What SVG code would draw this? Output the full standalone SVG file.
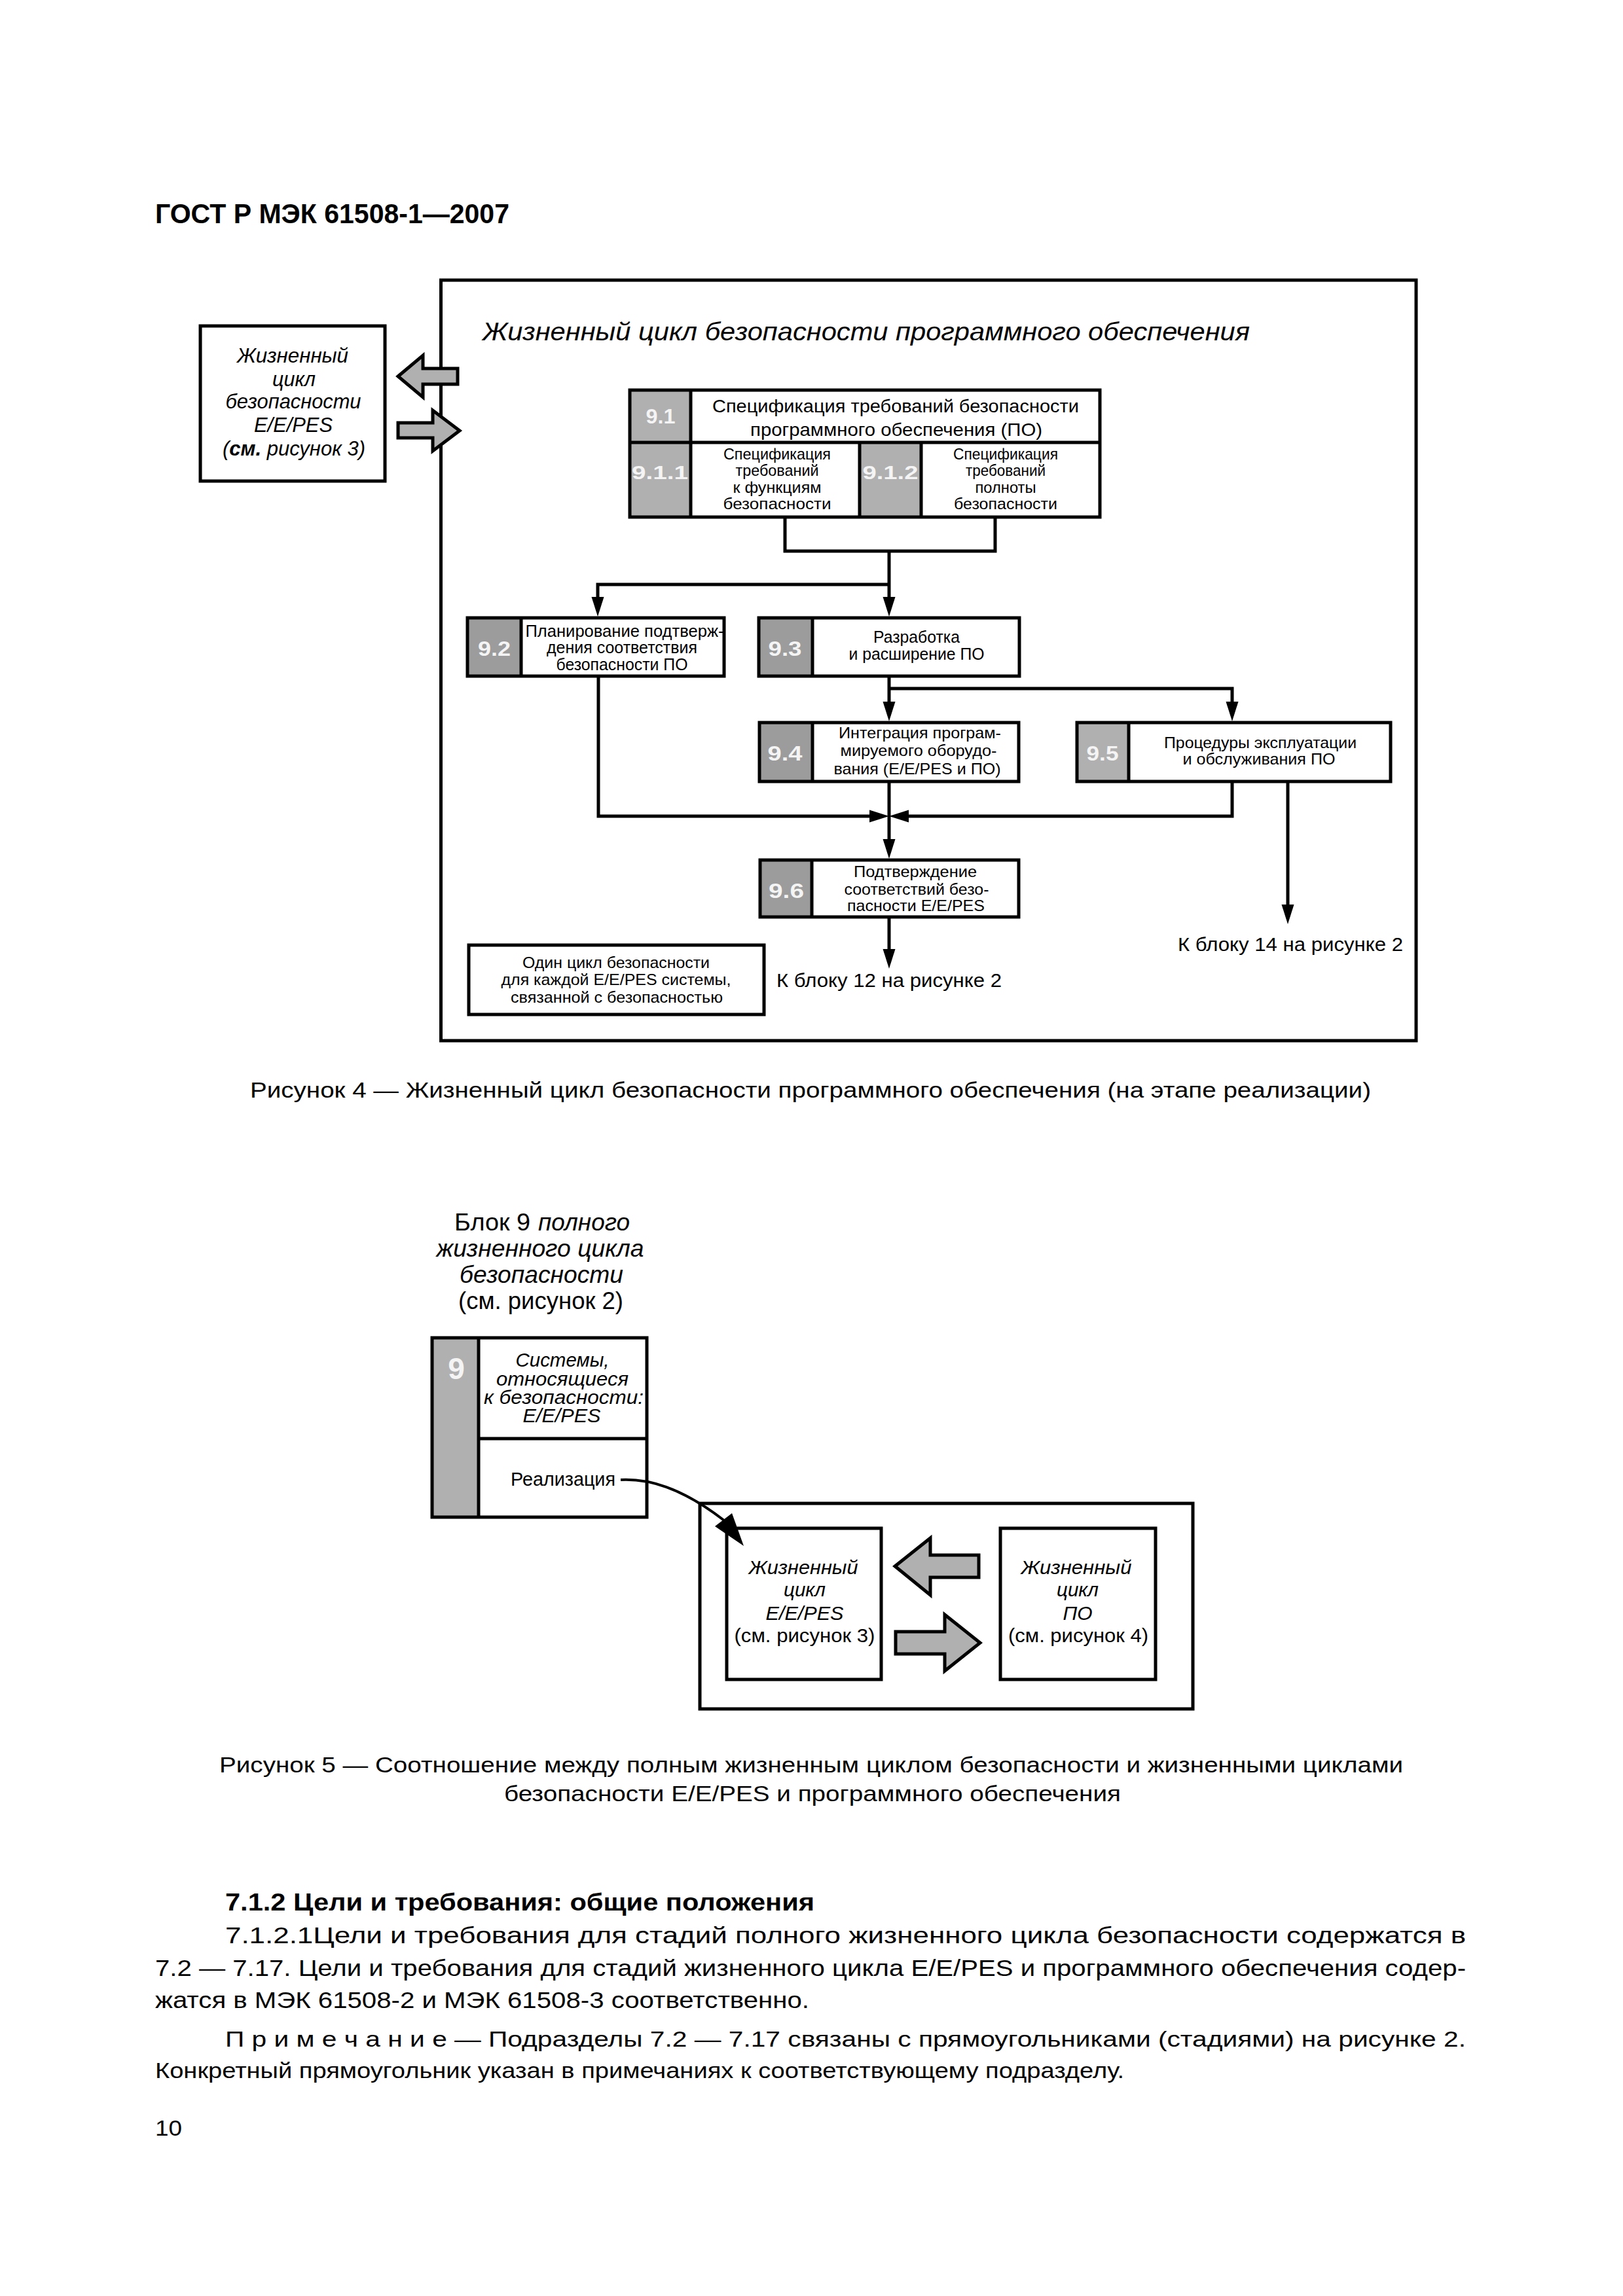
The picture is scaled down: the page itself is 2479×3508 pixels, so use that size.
<svg xmlns="http://www.w3.org/2000/svg" width="2479" height="3508" viewBox="0 0 2479 3508">
<defs>
<style>
text{font-family:'Liberation Sans',Arial,sans-serif;fill:#000}
.i{font-style:italic}
.b{font-weight:bold}
.m{text-anchor:middle}
.ol{fill:none;stroke:#000;stroke-width:5}
.g1{fill:#9c9c9c}
.g2{fill:#b0b0b0}
.dv{fill:none;stroke:#000;stroke-width:5}
.num{fill:#f4f4f4;font-weight:bold;text-anchor:middle}
.con{fill:none;stroke:#000;stroke-width:5}
.fat{fill:#b0b0b0;stroke:#000;stroke-width:5;stroke-linejoin:miter}
</style>
<marker id="ah" markerUnits="userSpaceOnUse" markerWidth="32" markerHeight="22" refX="0" refY="10" orient="auto"><path d="M0,0.5 L30,10 L0,19.5 z" fill="#000"/></marker>
</defs>
<rect x="0" y="0" width="2479" height="3508" fill="#fff"/>

<g id="header"><text x="237" y="341" class="b" font-size="42" textLength="541" lengthAdjust="spacingAndGlyphs">ГОСТ Р МЭК 61508-1—2007</text></g>

<!-- Figure 4 -->
<g id="fig4-frame">
<rect class="ol" x="673.5" y="428" width="1489.5" height="1162"/>
<text x="737" y="520" class="i" font-size="39" textLength="1172" lengthAdjust="spacingAndGlyphs">Жизненный цикл безопасности программного обеспечения</text>
</g>

<g id="eepes-lifecycle">
<rect class="ol" x="306" y="498" width="282" height="237"/>
<text x="447" y="554" class="i m" font-size="32" textLength="170" lengthAdjust="spacingAndGlyphs">Жизненный</text>
<text x="449" y="590" class="i m" font-size="32" textLength="66" lengthAdjust="spacingAndGlyphs">цикл</text>
<text x="448" y="624" class="i m" font-size="32" textLength="207" lengthAdjust="spacingAndGlyphs">безопасности</text>
<text x="448" y="660" class="i m" font-size="32" textLength="120" lengthAdjust="spacingAndGlyphs">E/E/PES</text>
<text x="449" y="696" class="i m" font-size="31">(<tspan class="b">см.</tspan> рисунок 3)</text>
</g>

<g id="fig4-exchange-arrows">
<polygon class="fat" points="608,575 646,543 646,563 699,563 699,587 646,587 646,607"/>
<polygon class="fat" points="608,646 661,646 661,627 702,658 661,689 661,669 608,669"/>
</g>

<g id="n9-1">
<rect class="g2" x="962" y="596" width="93" height="194"/>
<rect class="g2" x="1313" y="676" width="94" height="114"/>
<rect class="ol" x="962" y="596" width="718" height="194"/>
<path class="dv" d="M1055,596 V790 M962,676 H1680 M1313,676 V790 M1407,676 V790"/>
<text x="1009" y="647" class="num" font-size="31" textLength="45" lengthAdjust="spacingAndGlyphs">9.1</text>
<text x="1368" y="630" class="m" font-size="28" textLength="560" lengthAdjust="spacingAndGlyphs">Спецификация требований безопасности</text>
<text x="1369" y="666" class="m" font-size="28" textLength="446" lengthAdjust="spacingAndGlyphs">программного обеспечения (ПО)</text>
<text x="1008" y="732" class="num" font-size="30" textLength="86" lengthAdjust="spacingAndGlyphs">9.1.1</text>
<text x="1187" y="702" class="m" font-size="24" textLength="164" lengthAdjust="spacingAndGlyphs">Спецификация</text>
<text x="1187" y="727" class="m" font-size="24" textLength="127" lengthAdjust="spacingAndGlyphs">требований</text>
<text x="1187" y="753" class="m" font-size="24" textLength="135" lengthAdjust="spacingAndGlyphs">к функциям</text>
<text x="1187" y="778" class="m" font-size="24" textLength="165" lengthAdjust="spacingAndGlyphs">безопасности</text>
<text x="1360" y="732" class="num" font-size="30" textLength="85" lengthAdjust="spacingAndGlyphs">9.1.2</text>
<text x="1536" y="702" class="m" font-size="24" textLength="160" lengthAdjust="spacingAndGlyphs">Спецификация</text>
<text x="1536" y="727" class="m" font-size="24" textLength="122" lengthAdjust="spacingAndGlyphs">требований</text>
<text x="1536" y="753" class="m" font-size="24" textLength="93" lengthAdjust="spacingAndGlyphs">полноты</text>
<text x="1536" y="778" class="m" font-size="24" textLength="158" lengthAdjust="spacingAndGlyphs">безопасности</text>
</g>

<g id="n9-2">
<rect class="g1" x="714" y="944" width="82" height="89"/>
<rect class="ol" x="714" y="944" width="392" height="89"/>
<path class="dv" d="M796,944 V1033"/>
<text x="755" y="1002" class="num" font-size="32" textLength="50" lengthAdjust="spacingAndGlyphs">9.2</text>
<text x="954" y="973" class="m" font-size="25" textLength="303" lengthAdjust="spacingAndGlyphs">Планирование подтверж-</text>
<text x="950" y="998" class="m" font-size="25" textLength="230" lengthAdjust="spacingAndGlyphs">дения соответствия</text>
<text x="950" y="1024" class="m" font-size="25" textLength="201" lengthAdjust="spacingAndGlyphs">безопасности ПО</text>
</g>

<g id="n9-3">
<rect class="g1" x="1159" y="944" width="82" height="89"/>
<rect class="ol" x="1159" y="944" width="398" height="89"/>
<path class="dv" d="M1241,944 V1033"/>
<text x="1199" y="1002" class="num" font-size="32" textLength="51" lengthAdjust="spacingAndGlyphs">9.3</text>
<text x="1400" y="982" class="m" font-size="25" textLength="132" lengthAdjust="spacingAndGlyphs">Разработка</text>
<text x="1400" y="1008" class="m" font-size="25" textLength="207" lengthAdjust="spacingAndGlyphs">и расширение ПО</text>
</g>

<g id="n9-4">
<rect class="g1" x="1160" y="1104" width="81" height="90"/>
<rect class="ol" x="1160" y="1104" width="396" height="90"/>
<path class="dv" d="M1241,1104 V1194"/>
<text x="1199" y="1162" class="num" font-size="32" textLength="53" lengthAdjust="spacingAndGlyphs">9.4</text>
<text x="1405" y="1128" class="m" font-size="24" textLength="248" lengthAdjust="spacingAndGlyphs">Интеграция програм-</text>
<text x="1403" y="1155" class="m" font-size="24" textLength="239" lengthAdjust="spacingAndGlyphs">мируемого оборудо-</text>
<text x="1401" y="1183" class="m" font-size="24" textLength="255" lengthAdjust="spacingAndGlyphs">вания (E/E/PES и ПО)</text>
</g>

<g id="n9-5">
<rect class="g2" x="1645" y="1104" width="79" height="90"/>
<rect class="ol" x="1645" y="1104" width="479" height="90"/>
<path class="dv" d="M1724,1104 V1194"/>
<text x="1684" y="1162" class="num" font-size="32" textLength="49" lengthAdjust="spacingAndGlyphs">9.5</text>
<text x="1925" y="1143" class="m" font-size="24" textLength="294" lengthAdjust="spacingAndGlyphs">Процедуры эксплуатации</text>
<text x="1923" y="1168" class="m" font-size="24" textLength="233" lengthAdjust="spacingAndGlyphs">и обслуживания ПО</text>
</g>

<g id="n9-6">
<rect class="g1" x="1161" y="1314" width="79" height="87"/>
<rect class="ol" x="1161" y="1314" width="395" height="87"/>
<path class="dv" d="M1240,1314 V1401"/>
<text x="1201" y="1372" class="num" font-size="32" textLength="54" lengthAdjust="spacingAndGlyphs">9.6</text>
<text x="1398" y="1340" class="m" font-size="24" textLength="188" lengthAdjust="spacingAndGlyphs">Подтверждение</text>
<text x="1400" y="1367" class="m" font-size="24" textLength="221" lengthAdjust="spacingAndGlyphs">соответствий безо-</text>
<text x="1399" y="1392" class="m" font-size="24" textLength="210" lengthAdjust="spacingAndGlyphs">пасности E/E/PES</text>
</g>

<g id="note-one-cycle">
<rect class="ol" x="716" y="1444" width="451" height="106"/>
<text x="941" y="1479" class="m" font-size="24" textLength="286" lengthAdjust="spacingAndGlyphs">Один цикл безопасности</text>
<text x="941" y="1505" class="m" font-size="24" textLength="351" lengthAdjust="spacingAndGlyphs">для каждой E/E/PES системы,</text>
<text x="942" y="1532" class="m" font-size="24" textLength="324" lengthAdjust="spacingAndGlyphs">связанной с безопасностью</text>
</g>

<g id="to-block-12"><text x="1186" y="1508" font-size="30" textLength="344" lengthAdjust="spacingAndGlyphs">К блоку 12 на рисунке 2</text></g>
<g id="to-block-14"><text x="1799" y="1453" font-size="30" textLength="344" lengthAdjust="spacingAndGlyphs">К блоку 14 на рисунке 2</text></g>

<g id="connectors">
<path class="con" d="M1199,790 V842 H1520 V790"/>
<path class="con" d="M1358,842 V912" marker-end="url(#ah)"/>
<path class="con" d="M1358,893 H913 V912" marker-end="url(#ah)"/>
<path class="con" d="M1358,1033 V1072" marker-end="url(#ah)"/>
<path class="con" d="M1358,1052 H1882 V1072" marker-end="url(#ah)"/>
<path class="con" d="M914,1033 V1247 H1328" marker-end="url(#ah)"/>
<path class="con" d="M1882,1194 V1247 H1388" marker-end="url(#ah)"/>
<path class="con" d="M1358,1194 V1282" marker-end="url(#ah)"/>
<path class="con" d="M1967,1194 V1382" marker-end="url(#ah)"/>
<path class="con" d="M1358,1401 V1450" marker-end="url(#ah)"/>
<path d="M948,2261 C990,2259 1040,2272 1106,2323" fill="none" stroke="#000" stroke-width="4"/>
<polygon points="1136,2362 1092,2332 1118,2312" fill="#000"/>
</g>

<g id="fig4-caption"><text x="382" y="1677" font-size="33" textLength="1712" lengthAdjust="spacingAndGlyphs">Рисунок 4 — Жизненный цикл безопасности программного обеспечения (на этапе реализации)</text></g>

<!-- Figure 5 -->
<g id="block9-label">
<text x="694" y="1880" font-size="36" textLength="116" lengthAdjust="spacingAndGlyphs">Блок 9</text>
<text x="822" y="1880" class="i" font-size="36" textLength="140" lengthAdjust="spacingAndGlyphs">полного</text>
<text x="825" y="1920" class="i m" font-size="36" textLength="317" lengthAdjust="spacingAndGlyphs">жизненного цикла</text>
<text x="827" y="1960" class="i m" font-size="36" textLength="250" lengthAdjust="spacingAndGlyphs">безопасности</text>
<text x="826" y="2000" class="m" font-size="36" textLength="252" lengthAdjust="spacingAndGlyphs">(см. рисунок 2)</text>
</g>

<g id="block9">
<rect class="g2" x="660" y="2044" width="71" height="274"/>
<rect class="ol" x="660" y="2044" width="328" height="274"/>
<path class="dv" d="M731,2044 V2318 M731,2198 H988"/>
<text x="697" y="2107" class="num" font-size="46">9</text>
<text x="859" y="2088" class="i m" font-size="30" textLength="143" lengthAdjust="spacingAndGlyphs">Системы,</text>
<text x="859" y="2117" class="i m" font-size="30" textLength="202" lengthAdjust="spacingAndGlyphs">относящиеся</text>
<text x="861" y="2145" class="i m" font-size="30" textLength="244" lengthAdjust="spacingAndGlyphs">к безопасности:</text>
<text x="858" y="2173" class="i m" font-size="30" textLength="119" lengthAdjust="spacingAndGlyphs">E/E/PES</text>
<text x="860" y="2270" class="m" font-size="29" textLength="160" lengthAdjust="spacingAndGlyphs">Реализация</text>
</g>

<g id="realization-frame">
<rect class="ol" x="1069" y="2297" width="753" height="314"/>
</g>

<g id="eepes-cycle">
<rect class="ol" x="1110" y="2335" width="236" height="231"/>
<text x="1227" y="2405" class="i m" font-size="30" textLength="167" lengthAdjust="spacingAndGlyphs">Жизненный</text>
<text x="1229" y="2439" class="i m" font-size="30" textLength="64" lengthAdjust="spacingAndGlyphs">цикл</text>
<text x="1229" y="2475" class="i m" font-size="30" textLength="119" lengthAdjust="spacingAndGlyphs">E/E/PES</text>
<text x="1229" y="2509" class="m" font-size="30" textLength="215" lengthAdjust="spacingAndGlyphs">(см. рисунок 3)</text>
</g>

<g id="software-cycle">
<rect class="ol" x="1528" y="2335" width="237" height="231"/>
<text x="1644" y="2405" class="i m" font-size="30" textLength="169" lengthAdjust="spacingAndGlyphs">Жизненный</text>
<text x="1646" y="2439" class="i m" font-size="30" textLength="64" lengthAdjust="spacingAndGlyphs">цикл</text>
<text x="1646" y="2475" class="i m" font-size="30" textLength="45" lengthAdjust="spacingAndGlyphs">ПО</text>
<text x="1647" y="2509" class="m" font-size="30" textLength="214" lengthAdjust="spacingAndGlyphs">(см. рисунок 4)</text>
</g>

<g id="fig5-exchange-arrows">
<polygon class="fat" points="1367,2393 1421,2350 1421,2376 1495,2376 1495,2410 1421,2410 1421,2437"/>
<polygon class="fat" points="1368,2493 1443,2493 1443,2467 1497,2510 1443,2553 1443,2527 1368,2527"/>
</g>

<g id="fig5-caption">
<text x="335" y="2708" font-size="33" textLength="1808" lengthAdjust="spacingAndGlyphs">Рисунок 5 — Соотношение между полным жизненным циклом безопасности и жизненными циклами</text>
<text x="770" y="2752" font-size="33" textLength="942" lengthAdjust="spacingAndGlyphs">безопасности E/E/PES и программного обеспечения</text>
</g>

<g id="body-text">
<text x="344" y="2919" class="b" font-size="37" textLength="900" lengthAdjust="spacingAndGlyphs">7.1.2 Цели и требования: общие положения</text>
<text x="344" y="2969" font-size="35" textLength="1895" lengthAdjust="spacingAndGlyphs">7.1.2.1Цели и требования для стадий полного жизненного цикла безопасности содержатся в</text>
<text x="237" y="3019" font-size="35" textLength="2002" lengthAdjust="spacingAndGlyphs">7.2 — 7.17. Цели и требования для стадий жизненного цикла E/E/PES и программного обеспечения содер-</text>
<text x="237" y="3068" font-size="35" textLength="999" lengthAdjust="spacingAndGlyphs">жатся в МЭК 61508-2 и МЭК 61508-3 соответственно.</text>
<text x="344" y="3127" font-size="33" textLength="1895" lengthAdjust="spacingAndGlyphs">П р и м е ч а н и е — Подразделы 7.2 — 7.17 связаны с прямоугольниками (стадиями) на рисунке 2.</text>
<text x="237" y="3175" font-size="33" textLength="1480" lengthAdjust="spacingAndGlyphs">Конкретный прямоугольник указан в примечаниях к соответствующему подразделу.</text>
<text x="237" y="3263" font-size="34" textLength="41" lengthAdjust="spacingAndGlyphs">10</text>
</g>
</svg>
